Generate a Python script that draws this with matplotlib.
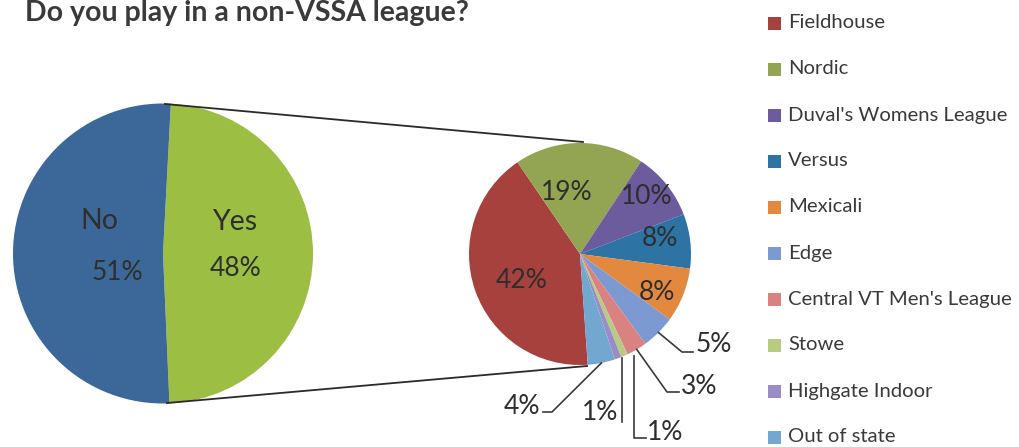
import numpy as np
import matplotlib
matplotlib.use("Agg")
import matplotlib.pyplot as plt
from matplotlib.patches import Rectangle

plt.rcParams['font.family'] = ['Lato', 'DejaVu Sans']

# ---------------- data ----------------
main_labels = ["Yes", "No"]
main_values = [48, 51]
main_colors = ["#9CBF43", "#3C6899"]

league_names = ["Fieldhouse", "Nordic", "Duval's Womens League", "Versus", "Mexicali",
                "Edge", "Central VT Men's League", "Stowe", "Highgate Indoor", "Out of state"]
league_values = [42, 19, 10, 8, 8, 5, 3, 1, 1, 4]
league_colors = ["#A6413E", "#93A452", "#6C5B9D", "#2D73A4", "#E2893F",
                 "#7D99D2", "#DA8282", "#B7CB82", "#9B8CC6", "#72A7D0"]

title = "Do you play in a non-VSSA league?"

W, H = 1019, 447
TXT = "#2e2e2e"
PCT = 19

fig = plt.figure(figsize=(W / 100, H / 100), dpi=100)
ax = fig.add_axes([0, 0, 1, 1])

def Y(y):
    return H - y

# ---------------- left pie ----------------
c1 = (163, Y(253.5)); r1 = 150
ax.pie(main_values, colors=main_colors, center=c1, radius=r1, startangle=87,
       counterclock=False, wedgeprops=dict(linewidth=0))

ax.text(99, Y(221), "No", fontsize=20.5, color=TXT, ha="center", va="center")
ax.text(117, Y(272), f"{main_values[1]}%", fontsize=PCT, color=TXT, ha="center", va="center")
ax.text(236, Y(222), "Yes", fontsize=20.5, color=TXT, ha="center", va="center")
ax.text(236, Y(268), f"{main_values[0]}%", fontsize=PCT, color=TXT, ha="center", va="center")

# ---------------- right pie ----------------
c2 = (580, Y(254)); r2 = 111
start2 = -86
wedges, _ = ax.pie(league_values, colors=league_colors, center=c2, radius=r2,
                   startangle=start2, counterclock=False, wedgeprops=dict(linewidth=0))

# connector lines
ax.plot([165, 583], [Y(104), Y(142)], color="#2a2a2a", lw=1.3)
ax.plot([167, 587], [Y(403), Y(366)], color="#2a2a2a", lw=1.3)

# inside labels
inside_pos = [(522, 280), (567, 192), (647, 196), (660, 238), (657, 292)]
for v, (x, y) in zip(league_values[:5], inside_pos):
    ax.text(x, Y(y), f"{v}%", fontsize=PCT, color=TXT, ha="center", va="center")

# outside labels with leader lines
def edge_point(w):
    mid = np.deg2rad((w.theta1 + w.theta2) / 2)
    return c2[0] + r2 * np.cos(mid), c2[1] + r2 * np.sin(mid)

outside = [
    (5, [(682, 352), (693, 352)], (696, 344), "left"),
    (6, [(667, 392), (679, 392)], (681, 386), "left"),
    (7, [(634, 438), (646, 438)], (647, 432), "left"),
    (8, [(622, 422)], (618, 413), "right"),
    (9, [(552, 412), (543, 412)], (540, 407), "right"),
]
for idx, pts, (tx, ty), ha in outside:
    x0, y0 = edge_point(wedges[idx])
    if idx in (7, 8):
        x0 = pts[0][0]
    xs = [x0] + [p[0] for p in pts]
    ys = [y0] + [Y(p[1]) for p in pts]
    ax.plot(xs, ys, color="#3a3a3a", lw=1.2)
    ax.text(tx, Y(ty), f"{league_values[idx]}%", fontsize=PCT, color=TXT, ha=ha, va="center")

# ---------------- legend ----------------
for i, (name, col) in enumerate(zip(league_names, league_colors)):
    yc = 23 + i * 46
    ax.add_patch(Rectangle((768, Y(yc) - 6.5), 13, 13, facecolor=col, edgecolor="none"))
    ax.text(788, Y(yc), name, fontsize=14.6, color="#3a3a3a", ha="left", va="center")

# ---------------- title ----------------
ax.text(25, Y(21.5), title, fontsize=20.5, fontweight="bold", color="#3a3a3a",
        ha="left", va="baseline")

ax.set_xlim(0, W)
ax.set_ylim(0, H)
ax.set_aspect("equal")
ax.axis("off")

fig.savefig("out.png", dpi=100, facecolor="white")
